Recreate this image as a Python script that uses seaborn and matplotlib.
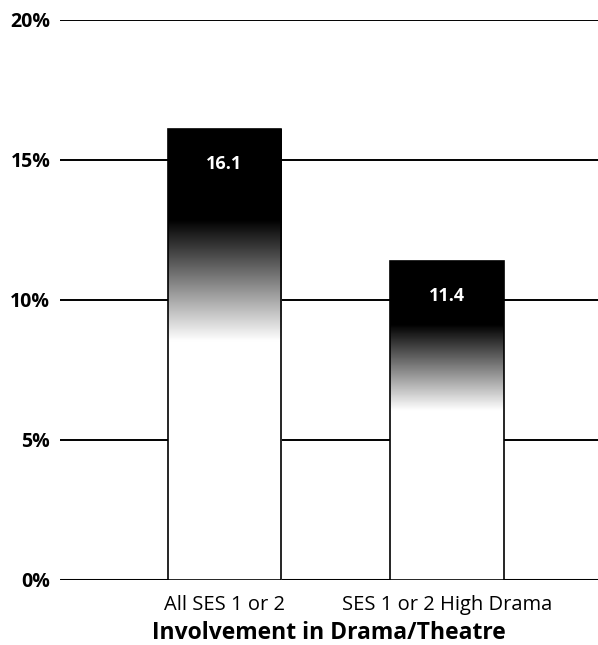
import numpy as np
import pandas as pd
import matplotlib
matplotlib.use("Agg")
import matplotlib.pyplot as plt
import seaborn as sns

# Dane
categories = ["All SES 1 or 2", "SES 1 or 2 High Drama"]
values = [16.1, 11.4]
y_ticks = [0, 5, 10, 15, 20]
y_labels = ["0%", "5%", "10%", "15%", "20%"]
x_title = "Involvement in Drama/Theatre"

df = pd.DataFrame({"group": categories, "pct": values})

sns.set_style("white")
plt.rcParams["font.family"] = ["Open Sans", "DejaVu Sans"]
plt.rcParams["text.color"] = "black"
plt.rcParams["xtick.color"] = "black"
plt.rcParams["ytick.color"] = "black"
plt.rcParams["axes.labelcolor"] = "black"

fig = plt.figure(figsize=(5.98, 6.45), dpi=100)
ax = fig.add_axes([0.1003, 0.1008, 0.8997, 0.8682])

# Linie siatki za słupkami
for t in y_ticks:
    ax.axhline(t, color="black", lw=2.2 if t == 0 else 1.4, zorder=0)

sns.barplot(data=df, x="group", y="pct", color="white", edgecolor="black",
            linewidth=1.2, width=0.51, ax=ax, zorder=2)

# Gradient: czarny u góry, biały u dołu
frac = np.linspace(0, 1, 300).reshape(-1, 1)
shade = np.clip((frac - 0.53) / (0.80 - 0.53), 0, 1)
for bar in ax.patches:
    x0, w, h = bar.get_x(), bar.get_width(), bar.get_height()
    im = ax.imshow(shade, cmap="gray_r", vmin=0, vmax=1, origin="lower",
                   extent=[x0, x0 + w, 0, h], aspect="auto", zorder=2.5,
                   interpolation="bilinear")
    im.set_clip_path(bar)
    bar.set_facecolor("none")
    bar.set_zorder(3)

# Etykiety wartości
for i, v in enumerate(values):
    ax.annotate(f"{v:.1f}", (i, v), xytext=(0, -25), textcoords="offset points",
                ha="center", va="center", color="white", fontsize=13,
                fontweight="bold", zorder=4)

ax.set_xlim(-0.74, 1.68)
ax.set_ylim(0, 20)
ax.set_yticks(y_ticks)
ax.set_yticklabels(y_labels, fontsize=14, fontweight="bold")
ax.tick_params(axis="y", length=0, pad=7)
ax.tick_params(axis="x", length=0, pad=11, labelsize=14.5)
ax.set_ylabel("")
ax.set_xlabel(x_title, fontsize=16.5, fontweight="bold", labelpad=4)
for s in ax.spines.values():
    s.set_visible(False)

fig.savefig("out.png", dpi=100)
